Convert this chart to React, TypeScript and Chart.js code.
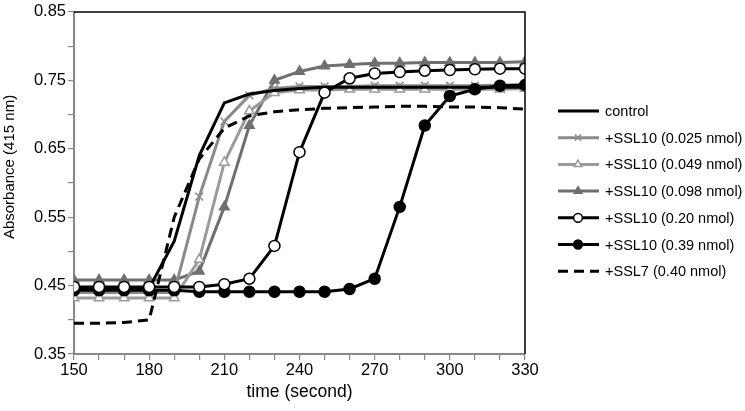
import React, { useEffect, useRef } from 'react';
import { Chart, registerables } from 'chart.js';

Chart.register(...registerables);

const FONT = '"Liberation Sans", Arial, Helvetica, sans-serif';

const times = [150, 160, 170, 180, 190, 200, 210, 220, 230, 240, 250, 260, 270, 280, 290, 300, 310, 320, 330];

const control = [0.445, 0.445, 0.445, 0.446, 0.515, 0.64, 0.717, 0.73, 0.735, 0.738, 0.74, 0.74, 0.74, 0.74, 0.74, 0.74, 0.74, 0.74, 0.74];
const ssl10_0025 = [0.44, 0.44, 0.44, 0.44, 0.44, 0.58, 0.69, 0.728, 0.738, 0.741, 0.741, 0.741, 0.742, 0.742, 0.742, 0.742, 0.742, 0.743, 0.743];
const ssl10_0049 = [0.432, 0.432, 0.432, 0.432, 0.432, 0.488, 0.63, 0.705, 0.732, 0.736, 0.736, 0.737, 0.737, 0.737, 0.737, 0.737, 0.737, 0.737, 0.738];
const ssl10_0098 = [0.458, 0.458, 0.458, 0.458, 0.458, 0.471, 0.565, 0.684, 0.75, 0.763, 0.771, 0.773, 0.775, 0.775, 0.776, 0.776, 0.776, 0.776, 0.777];
const ssl10_020 = [0.448, 0.448, 0.448, 0.448, 0.448, 0.448, 0.452, 0.46, 0.508, 0.645, 0.732, 0.753, 0.76, 0.762, 0.764, 0.765, 0.766, 0.767, 0.767];
const ssl10_039 = [0.443, 0.443, 0.443, 0.443, 0.443, 0.441, 0.441, 0.441, 0.441, 0.441, 0.441, 0.445, 0.46, 0.565, 0.684, 0.727, 0.737, 0.742, 0.743];
const ssl7_040 = [0.395, 0.395, 0.396, 0.4, 0.55, 0.635, 0.68, 0.698, 0.704, 0.707, 0.709, 0.71, 0.711, 0.712, 0.712, 0.711, 0.711, 0.71, 0.708];

const seriesLabels = [
  'control',
  '+SSL10 (0.025 nmol)',
  '+SSL10 (0.049 nmol)',
  '+SSL10 (0.098 nmol)',
  '+SSL10 (0.20 nmol)',
  '+SSL10 (0.39 nmol)',
  '+SSL7 (0.40 nmol)',
];

const xTitle = 'time (second)';
const yTitle = 'Absorbance (415 nm)';

const pts = (vals: number[]) => times.map((t, i) => ({ x: t, y: vals[i] }));

function drawMarker(ctx: CanvasRenderingContext2D, style: string, x: number, y: number, r: number, fill: string, stroke: string, bw: number) {
  ctx.save();
  ctx.beginPath();
  ctx.lineWidth = bw;
  ctx.strokeStyle = stroke;
  ctx.fillStyle = fill;
  if (style === 'circle') {
    ctx.arc(x, y, r, 0, Math.PI * 2);
    ctx.fill();
    ctx.stroke();
  } else if (style === 'triangle') {
    ctx.moveTo(x, y - r);
    ctx.lineTo(x + r * 0.866, y + r * 0.5);
    ctx.lineTo(x - r * 0.866, y + r * 0.5);
    ctx.closePath();
    ctx.fill();
    ctx.stroke();
  } else if (style === 'crossRot') {
    const d = r * 0.707;
    ctx.moveTo(x - d, y - d);
    ctx.lineTo(x + d, y + d);
    ctx.moveTo(x + d, y - d);
    ctx.lineTo(x - d, y + d);
    ctx.stroke();
  }
  ctx.restore();
}

const decorPlugin = {
  id: 'decor',
  afterDraw(chart: any) {
    const ctx: CanvasRenderingContext2D = chart.ctx;
    const { top, right, left, bottom } = chart.chartArea;
    ctx.save();
    // top and right frame
    ctx.strokeStyle = '#000';
    ctx.lineWidth = 1.5;
    ctx.beginPath();
    ctx.moveTo(left, top);
    ctx.lineTo(right, top);
    ctx.lineTo(right, bottom);
    ctx.stroke();

    // axis titles
    ctx.fillStyle = '#000';
    ctx.textBaseline = 'middle';
    ctx.textAlign = 'center';
    ctx.font = `17.5px ${FONT}`;
    ctx.fillText(xTitle, (left + right) / 2, 392);
    ctx.save();
    ctx.translate(10, 167);
    ctx.rotate(-Math.PI / 2);
    ctx.font = `15px ${FONT}`;
    ctx.fillText(yTitle, 0, 0);
    ctx.restore();

    // legend
    const x0 = 558, x1 = 599, xm = 578, xt = 605;
    chart.data.datasets.forEach((ds: any, i: number) => {
      const y = 111 + i * 26.7;
      ctx.save();
      ctx.strokeStyle = ds.borderColor;
      ctx.lineWidth = ds.borderWidth;
      ctx.setLineDash(ds.borderDash || []);
      ctx.beginPath();
      ctx.moveTo(x0, y);
      ctx.lineTo(x1, y);
      ctx.stroke();
      ctx.restore();
      if (ds.pointRadius > 0) {
        drawMarker(ctx, ds.pointStyle, xm, y, ds.pointRadius * 0.8, ds.pointBackgroundColor, ds.pointBorderColor, ds.pointBorderWidth);
      }
      ctx.fillStyle = '#000';
      ctx.textAlign = 'left';
      ctx.textBaseline = 'middle';
      ctx.font = `14.5px ${FONT}`;
      ctx.fillText(ds.label, xt, y + 1);
    });
    ctx.restore();
  },
};

export default function App() {
  const ref = useRef<HTMLCanvasElement | null>(null);

  useEffect(() => {
    if (!ref.current) return;
    const gray1 = '#8a8a8a';
    const gray2 = '#9b9b9b';
    const gray3 = '#6f6f6f';
    const chart = new Chart(ref.current, {
      type: 'line',
      data: {
        datasets: [
          {
            label: seriesLabels[0], data: pts(control), borderColor: '#000', borderWidth: 3,
            pointRadius: 0, pointStyle: 'circle', pointBackgroundColor: '#000', pointBorderColor: '#000', pointBorderWidth: 1, order: 3,
          },
          {
            label: seriesLabels[1], data: pts(ssl10_0025), borderColor: gray1, borderWidth: 3,
            pointRadius: 5.5, pointStyle: 'crossRot', pointBackgroundColor: gray1, pointBorderColor: gray1, pointBorderWidth: 1.5, order: 4,
          },
          {
            label: seriesLabels[2], data: pts(ssl10_0049), borderColor: gray2, borderWidth: 3,
            pointRadius: 5.5, pointStyle: 'triangle', pointBackgroundColor: '#fff', pointBorderColor: gray2, pointBorderWidth: 1.5, order: 5,
          },
          {
            label: seriesLabels[3], data: pts(ssl10_0098), borderColor: gray3, borderWidth: 3,
            pointRadius: 5.5, pointStyle: 'triangle', pointBackgroundColor: gray3, pointBorderColor: gray3, pointBorderWidth: 1.5, order: 6,
          },
          {
            label: seriesLabels[4], data: pts(ssl10_020), borderColor: '#000', borderWidth: 3,
            pointRadius: 5.5, pointStyle: 'circle', pointBackgroundColor: '#fff', pointBorderColor: '#000', pointBorderWidth: 1.5, order: 1,
          },
          {
            label: seriesLabels[5], data: pts(ssl10_039), borderColor: '#000', borderWidth: 3,
            pointRadius: 5.5, pointStyle: 'circle', pointBackgroundColor: '#000', pointBorderColor: '#000', pointBorderWidth: 1.5, order: 2,
          },
          {
            label: seriesLabels[6], data: pts(ssl7_040), borderColor: '#000', borderWidth: 3, borderDash: [10, 6],
            pointRadius: 0, pointStyle: 'circle', pointBackgroundColor: '#000', pointBorderColor: '#000', pointBorderWidth: 1, order: 0,
          },
        ] as any,
      },
      options: {
        animation: false,
        responsive: false,
        devicePixelRatio: 1,
        events: [],
        layout: { padding: { top: 7, right: 220, left: 0, bottom: 0 } },
        plugins: { legend: { display: false }, tooltip: { enabled: false }, title: { display: false } },
        elements: { line: { tension: 0 } },
        scales: {
          x: {
            type: 'linear',
            min: 150,
            max: 330,
            afterFit: (s: any) => { s.height = 57; },
            ticks: {
              stepSize: 10,
              autoSkip: false,
              maxRotation: 0,
              padding: 1,
              color: '#000',
              font: { family: FONT, size: 16.5 },
              callback: (v: any) => (Math.round(v) % 30 === 0 ? String(Math.round(v)) : ''),
            },
            grid: { drawOnChartArea: false, drawTicks: true, tickLength: 6, color: '#888', lineWidth: 1.2 },
            border: { display: true, color: '#888', width: 2 },
          },
          y: {
            type: 'linear',
            min: 0.35,
            max: 0.85,
            afterFit: (s: any) => { s.width = 74; },
            ticks: {
              stepSize: 0.05,
              autoSkip: false,
              padding: 2,
              color: '#000',
              font: { family: FONT, size: 16.5 },
              callback: (v: any) => {
                const k = Math.round(Number(v) * 100);
                return k % 10 === 5 ? (k / 100).toFixed(2) : '';
              },
            },
            grid: { drawOnChartArea: false, drawTicks: true, tickLength: 6, color: '#888', lineWidth: 1.2 },
            border: { display: true, color: '#888', width: 2 },
          },
        },
      } as any,
      plugins: [decorPlugin],
    });
    return () => chart.destroy();
  }, []);

  return (
    <div style={{ position: 'absolute', left: 0, top: 0, width: 745, height: 411, background: '#fff' }}>
      <canvas ref={ref} width={745} height={411} style={{ display: 'block' }} />
    </div>
  );
}
